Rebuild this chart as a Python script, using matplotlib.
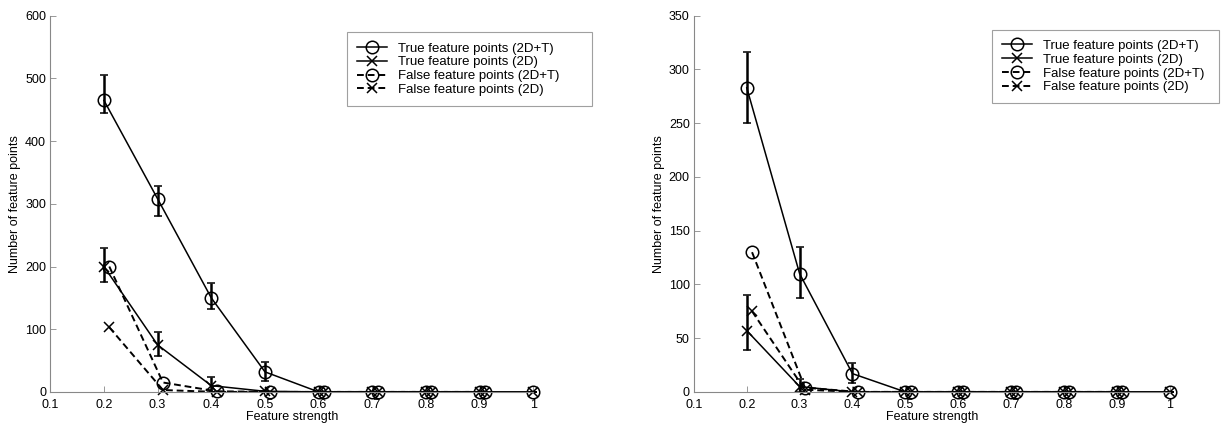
import numpy as np
import matplotlib
matplotlib.use("Agg")
import matplotlib.pyplot as plt

plt.rcParams['font.family'] = ['Liberation Sans', 'DejaVu Sans']

# feature strength; false series are drawn slightly shifted to the right
x_true = [0.2, 0.3, 0.4, 0.5, 0.6, 0.7, 0.8, 0.9, 1.0]
x_false = [0.21, 0.31, 0.41, 0.51, 0.61, 0.71, 0.81, 0.91]

labels = ['True feature points (2D+T)', 'True feature points (2D)',
          'False feature points (2D+T)', 'False feature points (2D)']

# left panel
l_true_2dt = [465, 308, 150, 32, 0, 0, 0, 0, 0]
l_true_2dt_lo = [445, 280, 133, 17, 0, 0, 0, 0, 0]
l_true_2dt_hi = [505, 328, 173, 47, 0, 0, 0, 0, 0]
l_true_2d = [200, 75, 10, 1, 0, 0, 0, 0, 0]
l_true_2d_lo = [176, 58, 0, 0, 0, 0, 0, 0, 0]
l_true_2d_hi = [230, 96, 24, 1, 0, 0, 0, 0, 0]
l_false_2dt = [200, 15, 1, 0, 0, 0, 0, 0]
l_false_2d = [103, 3, 0, 0, 0, 0, 0, 0]

# right panel
r_true_2dt = [283, 110, 17, 0, 0, 0, 0, 0, 0]
r_true_2dt_lo = [250, 87, 8, 0, 0, 0, 0, 0, 0]
r_true_2dt_hi = [316, 135, 27, 0, 0, 0, 0, 0, 0]
r_true_2d = [57, 5, 0, 0, 0, 0, 0, 0, 0]
r_true_2d_lo = [39, 0, 0, 0, 0, 0, 0, 0, 0]
r_true_2d_hi = [90, 12, 0, 0, 0, 0, 0, 0, 0]
r_false_2dt = [130, 4, 0, 0, 0, 0, 0, 0]
r_false_2d = [75, 2, 0, 0, 0, 0, 0, 0]

l_yticks = [0, 100, 200, 300, 400, 500, 600]
r_yticks = [0, 50, 100, 150, 200, 250, 300, 350]
xticks = [0.1, 0.2, 0.3, 0.4, 0.5, 0.6, 0.7, 0.8, 0.9, 1.0]
xticklabels = ['0.1', '0.2', '0.3', '0.4', '0.5', '0.6', '0.7', '0.8', '0.9', '1']


def draw_panel(ax, t2dt, t2dt_lo, t2dt_hi, t2d, t2d_lo, t2d_hi, f2dt, f2d, yticks):
    t2dt = np.array(t2dt)
    t2d = np.array(t2d)
    err1 = [t2dt - np.array(t2dt_lo), np.array(t2dt_hi) - t2dt]
    err2 = [t2d - np.array(t2d_lo), np.array(t2d_hi) - t2d]
    h = []
    e1 = ax.errorbar(x_true, t2dt, yerr=err1, color='k', lw=1.1, ls='-',
                     marker='o', ms=9, mfc='none', mew=1.1,
                     ecolor='k', elinewidth=1.8, capsize=3, capthick=1.8)
    e2 = ax.errorbar(x_true, t2d, yerr=err2, color='k', lw=1.1, ls='-',
                     marker='x', ms=7, mew=1.1,
                     ecolor='k', elinewidth=1.8, capsize=3, capthick=1.8)
    h.append(e1[0])
    h.append(e2[0])
    h.append(ax.plot(x_false, f2dt, color='k', lw=1.4, ls=(0, (3.5, 2)),
                     marker='o', ms=9, mfc='none', mew=1.1)[0])
    h.append(ax.plot(x_false, f2d, color='k', lw=1.4, ls=(0, (3.5, 2)),
                     marker='x', ms=7, mew=1.1)[0])

    ax.set_xlim(0.1, 1.0)
    ax.set_ylim(yticks[0], yticks[-1])
    ax.set_xticks(xticks)
    ax.set_xticklabels(xticklabels)
    ax.set_yticks(yticks)
    for s in ['top', 'right']:
        ax.spines[s].set_visible(False)
    for s in ['left', 'bottom']:
        ax.spines[s].set_color('#888888')
        ax.spines[s].set_linewidth(0.8)
    ax.tick_params(direction='in', length=4, width=0.6, color='#888888',
                   labelsize=9)
    ax.tick_params(axis='x', pad=5)
    ax.tick_params(axis='y', pad=3)
    ax.set_xlabel('Feature strength', fontsize=9, labelpad=0)
    ax.set_ylabel('Number of feature points', fontsize=9, labelpad=3)
    for a in (ax.lines, ax.collections):
        for art in a:
            art.set_clip_on(False)
    return h


fig = plt.figure(figsize=(12.26, 4.26), dpi=100)
ax1 = fig.add_axes([0.041, 0.080, 0.394, 0.883])
ax2 = fig.add_axes([0.566, 0.080, 0.388, 0.883])

h1 = draw_panel(ax1, l_true_2dt, l_true_2dt_lo, l_true_2dt_hi,
                l_true_2d, l_true_2d_lo, l_true_2d_hi,
                l_false_2dt, l_false_2d, l_yticks)
h2 = draw_panel(ax2, r_true_2dt, r_true_2dt_lo, r_true_2dt_hi,
                r_true_2d, r_true_2d_lo, r_true_2d_hi,
                r_false_2dt, r_false_2d, r_yticks)

for h, box in [(h1, (0.283, 0.744, 0.200, 0.180)), (h2, (0.809, 0.754, 0.185, 0.176))]:
    leg = fig.legend(h, labels, loc='upper left', bbox_to_anchor=box, mode='expand',
                     fontsize=9.5, frameon=True, fancybox=False, borderaxespad=0,
                     handlelength=2.3, handletextpad=0.8, labelspacing=0.12,
                     borderpad=0.75)
    leg.get_frame().set_edgecolor('#888888')
    leg.get_frame().set_linewidth(0.8)

fig.savefig('out.png', dpi=100)
